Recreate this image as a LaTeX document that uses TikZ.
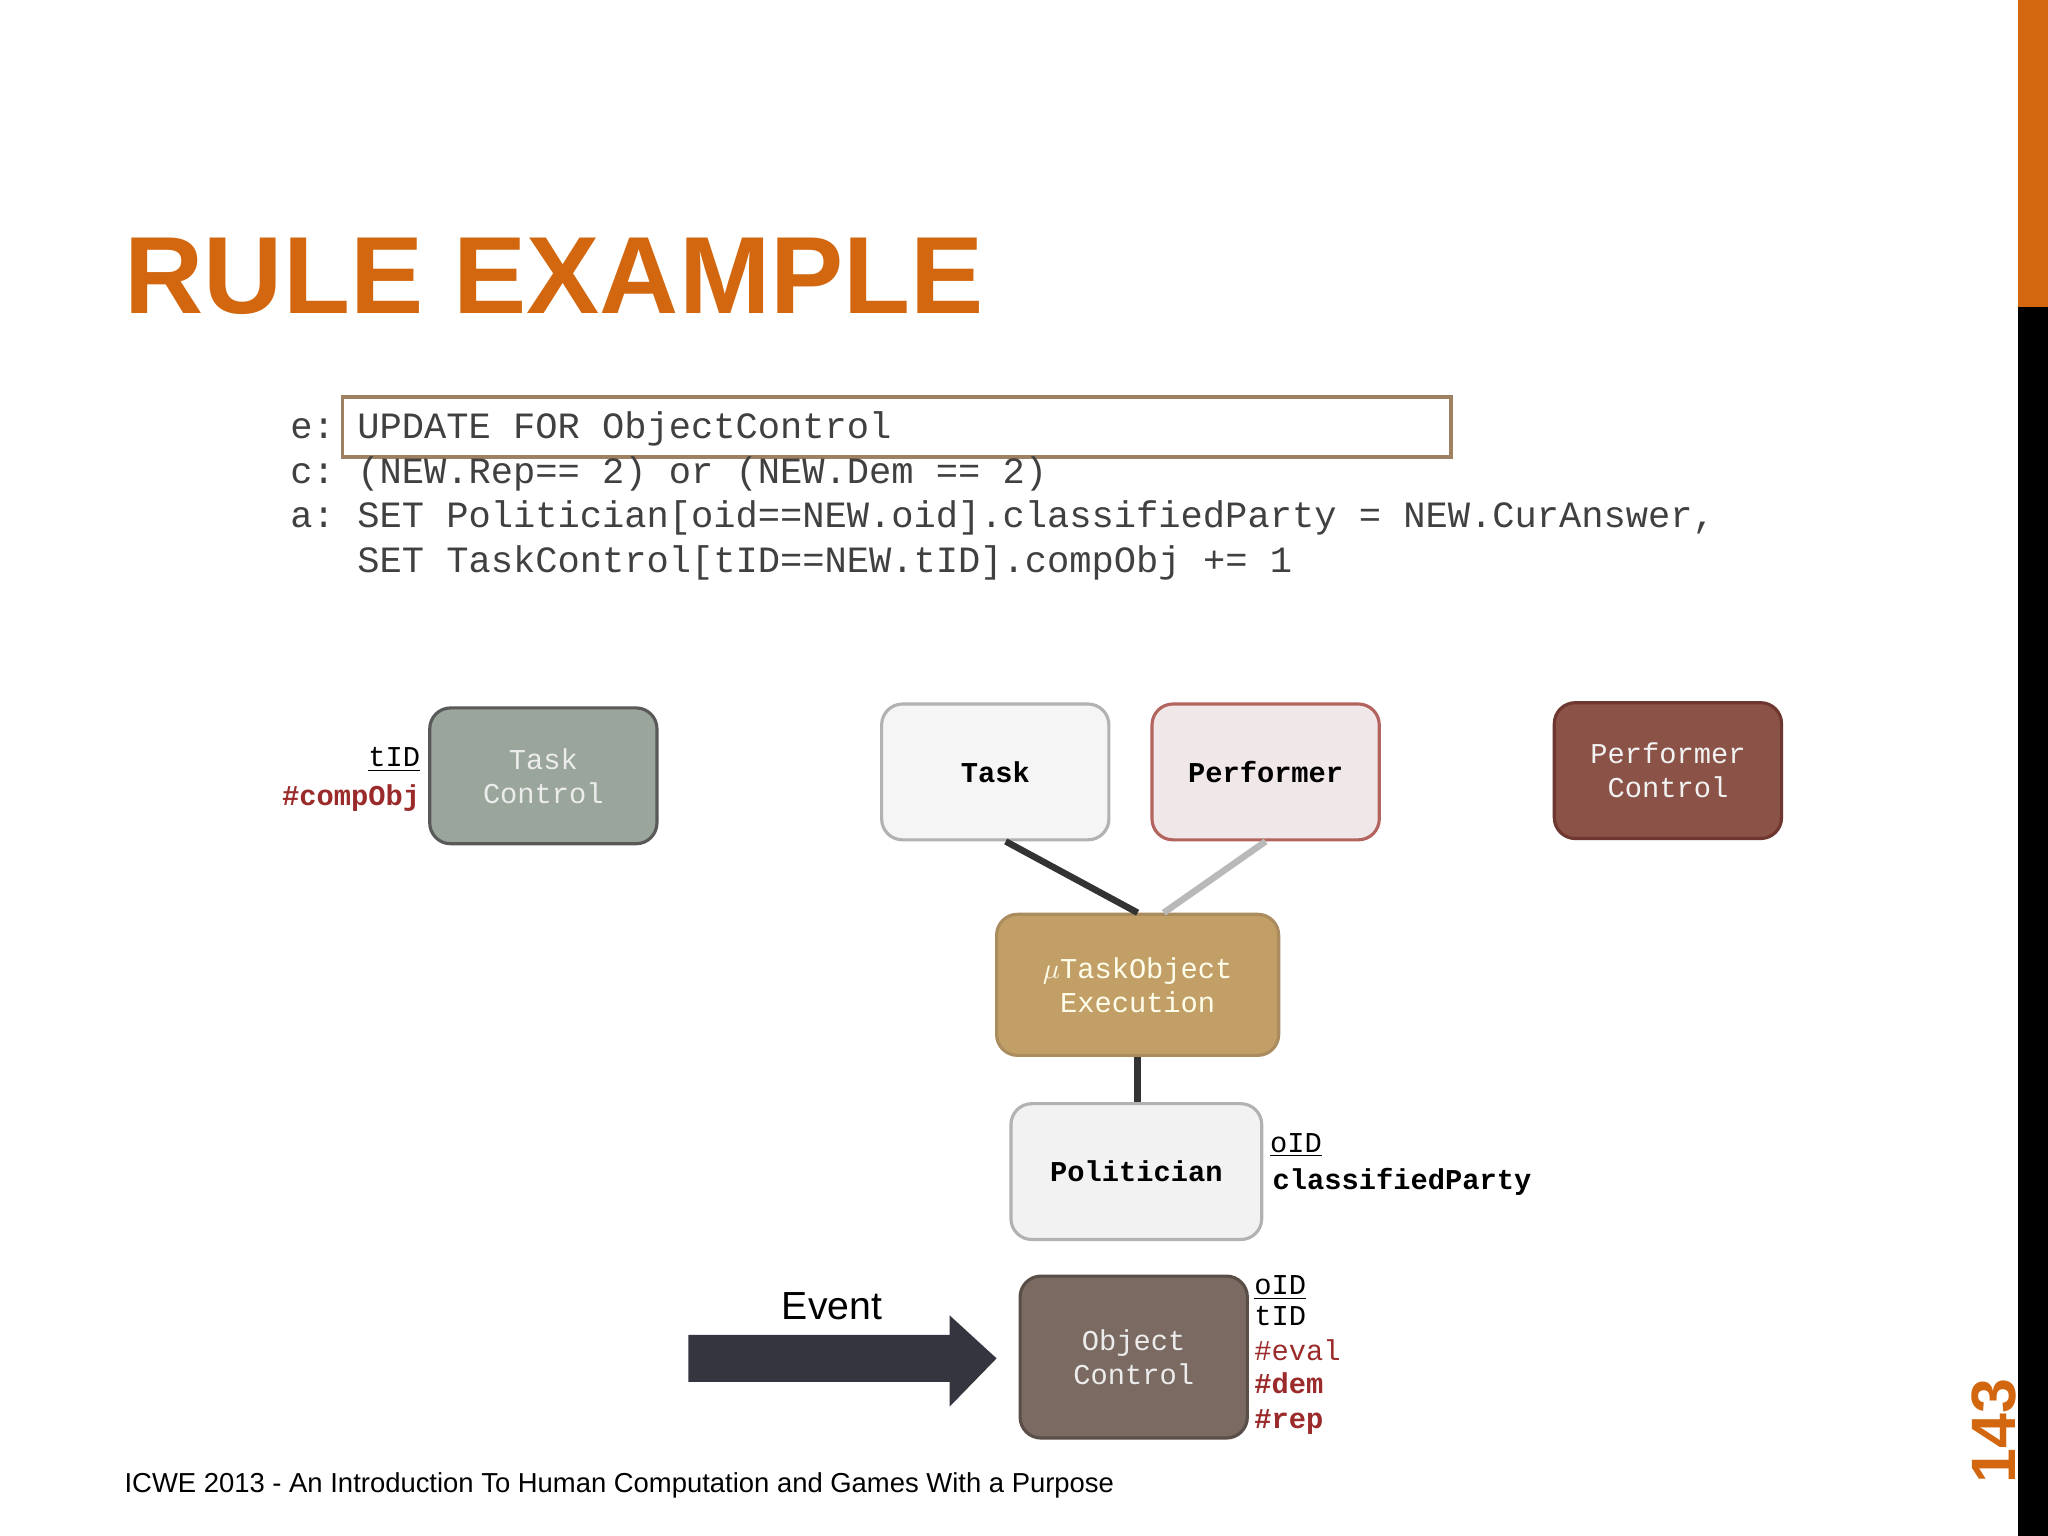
\documentclass[tikz,border=0pt]{standalone}
\usepackage{fontspec}
\setmainfont{Liberation Sans}
\setmonofont{Liberation Mono}
\definecolor{orng}{HTML}{D2670F}
\definecolor{redd}{HTML}{9B2A2A}
\definecolor{tcfill}{HTML}{9AA59B}
\definecolor{pfdraw}{HTML}{B4645F}
\definecolor{pffill}{HTML}{F0E8E8}
\definecolor{pcdraw}{HTML}{6E3730}
\definecolor{pcfill}{HTML}{8B5247}
\definecolor{exdraw}{HTML}{AA8C5F}
\definecolor{exfill}{HTML}{C39F68}
\definecolor{ocdraw}{HTML}{5A4E48}
\definecolor{ocfill}{HTML}{7A6A62}
\definecolor{arr}{HTML}{353540}
\begin{document}
\begin{tikzpicture}[x=0.5pt,y=-0.5pt,
  box/.style={draw, rounded corners=8pt, line width=1.2pt, minimum width=87pt, minimum height=52pt, font=\ttfamily\fontsize{11}{13}\selectfont, align=center, inner sep=0pt},
  lbl/.style={font=\ttfamily\bfseries\fontsize{11}{13}\selectfont, inner sep=0pt},
  code/.style={font=\ttfamily\fontsize{14.2}{16}\selectfont, anchor=base west, inner sep=0pt, text=black!75}]
\useasboundingbox (0,0) rectangle (1568,1176);
\fill[white] (0,0) rectangle (1568,1176);
\fill[orng] (1545,0) rectangle (1568,235);
\fill[black] (1545,235) rectangle (1568,1176);
\node[anchor=base west, inner sep=0pt, text=orng, font=\bfseries\fontsize{42}{44}\selectfont] (title) at (95,240) {RULE EXAMPLE};
\node[rotate=90, anchor=base west, inner sep=0pt, text=orng, font=\bfseries\fontsize{24}{26}\selectfont] (pg) at (1543,1136) {143};
\node[anchor=base west, inner sep=0pt, font=\fontsize{10.5}{12}\selectfont] (foot) at (95,1143) {ICWE 2013 - An Introduction To Human Computation and Games With a Purpose};
% code
\draw[draw=brown!50!gray, line width=1.3pt] (262,304) rectangle (1111,350);
\node[code] (l1) at (222,336) {e: UPDATE FOR ObjectControl};
\node[code] (l2) at (222,370) {c: (NEW.Rep== 2) or (NEW.Dem == 2)};
\node[code] (l3) at (222,404) {a: SET Politician[oid==NEW.oid].classifiedParty = NEW.CurAnswer,};
\node[code] (l4) at (222,438) {\phantom{a: }SET TaskControl[tID==NEW.tID].compObj += 1};
% nodes
\node[box, draw=gray!70!black, fill=tcfill, text=white!85!gray] (tc) at (416,594) {Task\\Control};
\node[box, draw=gray!60, fill=gray!8, font=\ttfamily\bfseries\fontsize{11}{13}\selectfont] (task) at (762,591) {Task};
\node[box, draw=pfdraw, fill=pffill, font=\ttfamily\bfseries\fontsize{11}{13}\selectfont] (perf) at (969,591) {Performer};
\node[box, draw=pcdraw, fill=pcfill, text=white!90!gray] (pc) at (1277,590) {Performer\\Control};
\node[box, minimum width=108pt, minimum height=54pt, draw=exdraw, fill=exfill, text=white!92!yellow] (exe) at (871,754) {$\mu$TaskObject\\Execution};
\node[box, minimum width=96pt, draw=gray!60, fill=gray!10, font=\ttfamily\bfseries\fontsize{11}{13}\selectfont] (pol) at (870,897) {Politician};
\node[box, minimum height=62pt, draw=ocdraw, fill=ocfill, text=white!85!gray] (oc) at (868,1039) {Object\\Control};
% connectors
\draw[line width=2.5pt, black!80] ([xshift=4pt]task.south) -- (exe.north);
\draw[line width=2.5pt, gray!55] (perf.south) -- ([xshift=10pt]exe.north);
\draw[line width=2.5pt, black!80] (exe.south) -- (exe.south |- pol.north);
% labels
\node[lbl, anchor=base east, font=\ttfamily\fontsize{11}{13}\selectfont] (tid) at (322,587) {\underline{tID}};
\node[lbl, anchor=base east, text=redd] (cmp) at (322,617) {\#compObj};
\node[lbl, anchor=base west, font=\ttfamily\fontsize{11}{13}\selectfont] (oid1) at (972,882) {\underline{oID}};
\node[lbl, anchor=base west] (cp) at (974,911) {classifiedParty};
\node[lbl, anchor=base west, font=\ttfamily\fontsize{11}{13}\selectfont] (oid2) at (960,991) {\underline{oID}};
\node[lbl, anchor=base west, font=\ttfamily\fontsize{11}{13}\selectfont] (tid2) at (960,1015) {tID};
\node[lbl, anchor=base west, text=redd, font=\ttfamily\fontsize{11}{13}\selectfont] (ev) at (960,1042) {\#eval};
\node[lbl, anchor=base west, text=redd] (dem) at (960,1067) {\#dem};
\node[lbl, anchor=base west, text=redd] (rep) at (960,1094) {\#rep};
% event arrow
\coordinate (ae) at (763,1040);
\fill[arr] (527,1022) -- (727,1022) -- (727,1007) -- (ae) -- (727,1077) -- (727,1058) -- (527,1058) -- cycle;
\node[anchor=base, inner sep=0pt, font=\fontsize{15}{17}\selectfont] (evt) at (637,1010) {Event};
\end{tikzpicture}
\end{document}
